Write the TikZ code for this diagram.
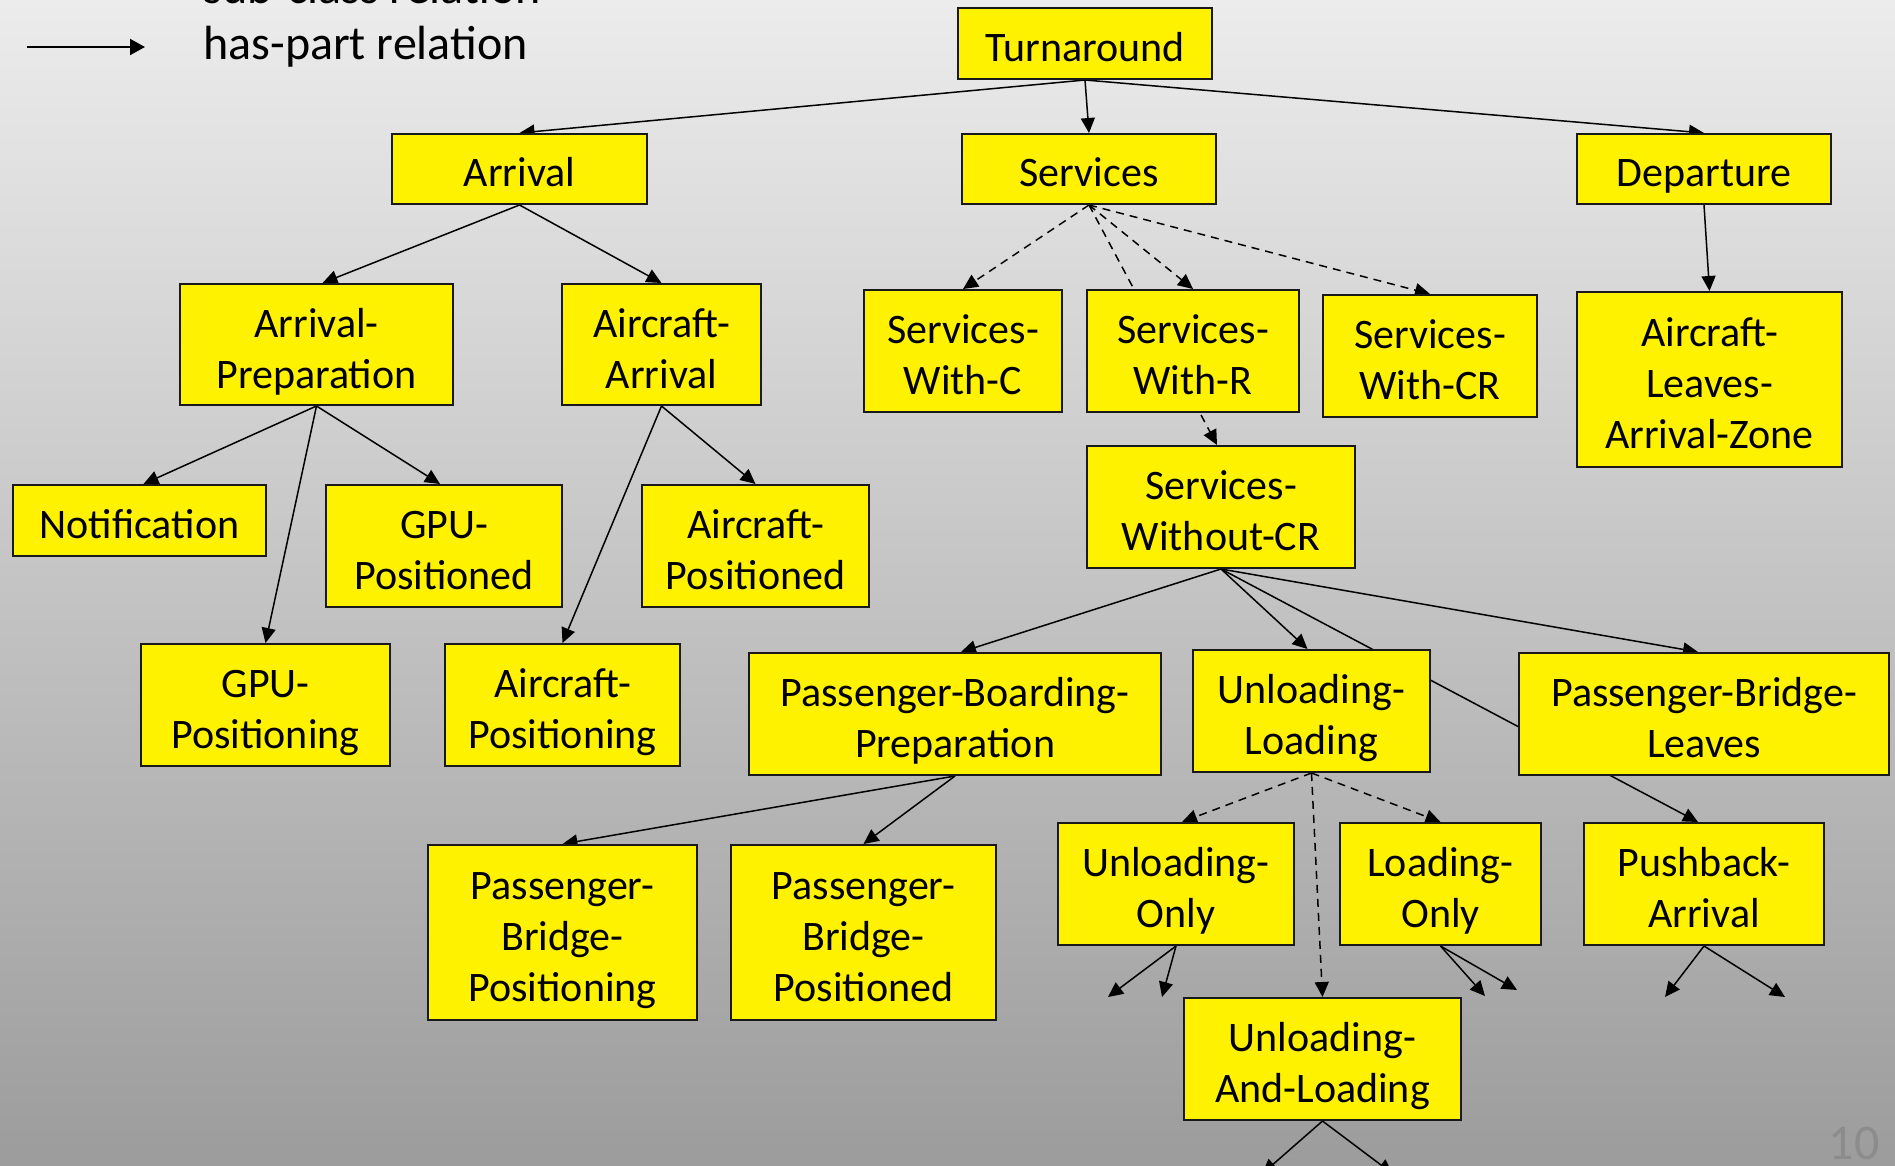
\documentclass[tikz,border=0pt]{standalone}
\usepackage{fontspec}
\setmainfont{Carlito}
\usetikzlibrary{arrows.meta}
\pgfdeclarelayer{backdrop}
\pgfdeclarelayer{links}
\pgfsetlayers{backdrop,links,main}

% struts that give every box label the same line-box height and depth
\newcommand{\hiStrut}{\rule{0pt}{22pt}}
\newcommand{\loStrut}{\rule[-4pt]{0pt}{4pt}}

\begin{document}
\begin{tikzpicture}[x=0.5pt,y=-0.5pt,
  concept/.style={draw=black!90, line width=1pt, fill=yellow, inner sep=0pt,
    align=center, font=\fontsize{21}{25.5}\selectfont},
  size/.style 2 args={minimum width={#1*0.5pt}, minimum height={#2*0.5pt}},
  haspart/.style={draw=black, line width=0.75pt, -{Triangle[length=7.5pt,width=7pt]}},
  subclass/.style={haspart, dash pattern=on 4pt off 3pt},
  legendtext/.style={anchor=base west, inner sep=0pt, font=\fontsize{24}{28}\selectfont},
]
\useasboundingbox (0,0) rectangle (1895,1166);

% gray backdrop
\begin{pgfonlayer}{backdrop}
  \shade[top color={rgb,255:red,236;green,236;blue,236},
         bottom color={rgb,255:red,156;green,156;blue,156}]
    (0,0) rectangle (1895,1166);
\end{pgfonlayer}

% legend
\coordinate (lgA) at (27,47);
\coordinate (lgB) at (145,47);
\draw[haspart, line width=1pt, -{Triangle[length=7.5pt,width=8pt]}] (lgA) -- (lgB);
\node[legendtext] (lgsub) at (203,4) {sub-class relation};
\node[legendtext] (lghas) at (203,60) {has-part relation};

% concepts
\node[concept, size={254}{71}]  (turn)    at (1085,43.5)  {\hiStrut Turnaround\loStrut};
\node[concept, size={255}{70}]  (arr)     at (519.5,169)  {\hiStrut Arrival\loStrut};
\node[concept, size={254}{70}]  (serv)    at (1089,169)   {\hiStrut Services\loStrut};
\node[concept, size={254}{70}]  (dep)     at (1704,169)   {\hiStrut Departure\loStrut};

\node[concept, size={273}{121}] (arrprep) at (316.5,344.5) {\hiStrut Arrival-\\Preparation\loStrut};
\node[concept, size={199}{121}] (acarr)   at (661.5,344.5) {\hiStrut Aircraft-\\Arrival\loStrut};
\node[concept, size={198}{122}] (swc)     at (963,351)    {\hiStrut Services-\\With-C\loStrut};
\node[concept, size={212}{122}] (swr)     at (1193,351)   {\hiStrut Services-\\With-R\loStrut};
\node[concept, size={214}{122}] (swcr)    at (1430,356)   {\hiStrut Services-\\With-CR\loStrut};
\node[concept, size={265}{175}] (leaves)  at (1709.5,379.5) {\hiStrut Aircraft-\\Leaves-\\Arrival-Zone\loStrut};
\node[concept, size={268}{122}] (swocr)   at (1221,507)   {\hiStrut Services-\\Without-CR\loStrut};

\node[concept, size={253}{71}]  (notif)   at (139.5,520.5) {\hiStrut Notification\loStrut};
\node[concept, size={236}{122}] (gpuped)  at (444,546)    {\hiStrut GPU-\\Positioned\loStrut};
\node[concept, size={227}{122}] (acpos)   at (755.5,546)  {\hiStrut Aircraft-\\Positioned\loStrut};
\node[concept, size={249}{122}] (gpuping) at (265.5,705)  {\hiStrut GPU-\\Positioning\loStrut};
\node[concept, size={235}{122}] (acping)  at (562.5,705)  {\hiStrut Aircraft-\\Positioning\loStrut};

\node[concept, size={412}{122}] (pbp)     at (955,714)    {\hiStrut Passenger-Boarding-\\Preparation\loStrut};
\node[concept, size={237}{122}] (ul)      at (1311.5,711) {\hiStrut Unloading-\\Loading\loStrut};
\node[concept, size={370}{122}] (pbl)     at (1704,714)   {\hiStrut Passenger-Bridge-\\Leaves\loStrut};

\node[concept, size={269}{175}] (pbping)  at (562.5,932.5) {\hiStrut Passenger-\\Bridge-\\Positioning\loStrut};
\node[concept, size={265}{175}] (pbped)   at (863.5,932.5) {\hiStrut Passenger-\\Bridge-\\Positioned\loStrut};
\node[concept, size={236}{122}] (uonly)   at (1176,884)   {\hiStrut Unloading-\\Only\loStrut};
\node[concept, size={201}{122}] (lonly)   at (1440.5,884) {\hiStrut Loading-\\Only\loStrut};
\node[concept, size={240}{122}] (pushb)   at (1704,884)   {\hiStrut Pushback-\\Arrival\loStrut};
\node[concept, size={277}{122}] (ual)     at (1322.5,1059) {\hiStrut Unloading-\\And-Loading\loStrut};

% open ends of further has-part links
\coordinate (uoA) at (1108,997);
\coordinate (uoB) at (1162,997);
\coordinate (loA) at (1485,996);
\coordinate (loB) at (1517,990);
\coordinate (paA) at (1665,997);
\coordinate (paB) at (1785,997);
\coordinate (alA) at (1262,1174);
\coordinate (alB) at (1393,1174);

% page number
\node[anchor=base east, inner sep=0pt, text=black!45,
      font=\fontsize{25}{30}\selectfont] (pgnum) at (1880,1159) {10};

% relations, drawn beneath the boxes
\begin{pgfonlayer}{links}
  \draw[haspart] (turn.south) -- (arr.north);
  \draw[haspart] (turn.south) -- (serv.north);
  \draw[haspart] (turn.south) -- (dep.north);

  \draw[haspart] (arr.south) -- ([xshift=3pt]arrprep.north);
  \draw[haspart] (arr.south) -- (acarr.north);
  \draw[haspart] (arrprep.south) -- ([xshift=2pt]notif.north);
  \draw[haspart] (arrprep.south) -- ([xshift=-2pt]gpuped.north);
  \draw[haspart] (arrprep.south) -- (gpuping.north);
  \draw[haspart] (acarr.south) -- (acpos.north);
  \draw[haspart] (acarr.south) -- (acping.north);

  \draw[haspart] (dep.south) -- (leaves.north);

  \draw[subclass] (serv.south) -- (swc.north);
  \draw[subclass] (serv.south) -- (swr.north);
  \draw[subclass] (serv.south) -- (swcr.north);
  \draw[subclass] (serv.south) -- ([xshift=-2pt]swocr.north);

  \draw[haspart] (swocr.south) -- ([xshift=3pt]pbp.north);
  \draw[haspart] (swocr.south) -- ([xshift=-2pt]ul.north);
  \draw[haspart] (swocr.south) -- ([xshift=-3pt]pbl.north);
  \draw[haspart] (swocr.south) -- ([xshift=-3pt]pushb.north);

  \draw[haspart] (pbp.south) -- (pbping.north);
  \draw[haspart] (pbp.south) -- (pbped.north);

  \draw[subclass] (ul.south) -- ([xshift=3pt]uonly.north);
  \draw[subclass] (ul.south) -- (lonly.north);
  \draw[subclass] (ul.south) -- (ual.north);

  \draw[haspart] (uonly.south) -- (uoA);
  \draw[haspart] (uonly.south) -- (uoB);
  \draw[haspart] (lonly.south) -- (loA);
  \draw[haspart] (lonly.south) -- (loB);
  \draw[haspart] (pushb.south) -- (paA);
  \draw[haspart] (pushb.south) -- (paB);
  \draw[haspart] (ual.south) -- (alA);
  \draw[haspart] (ual.south) -- (alB);
\end{pgfonlayer}
\end{tikzpicture}
\end{document}
